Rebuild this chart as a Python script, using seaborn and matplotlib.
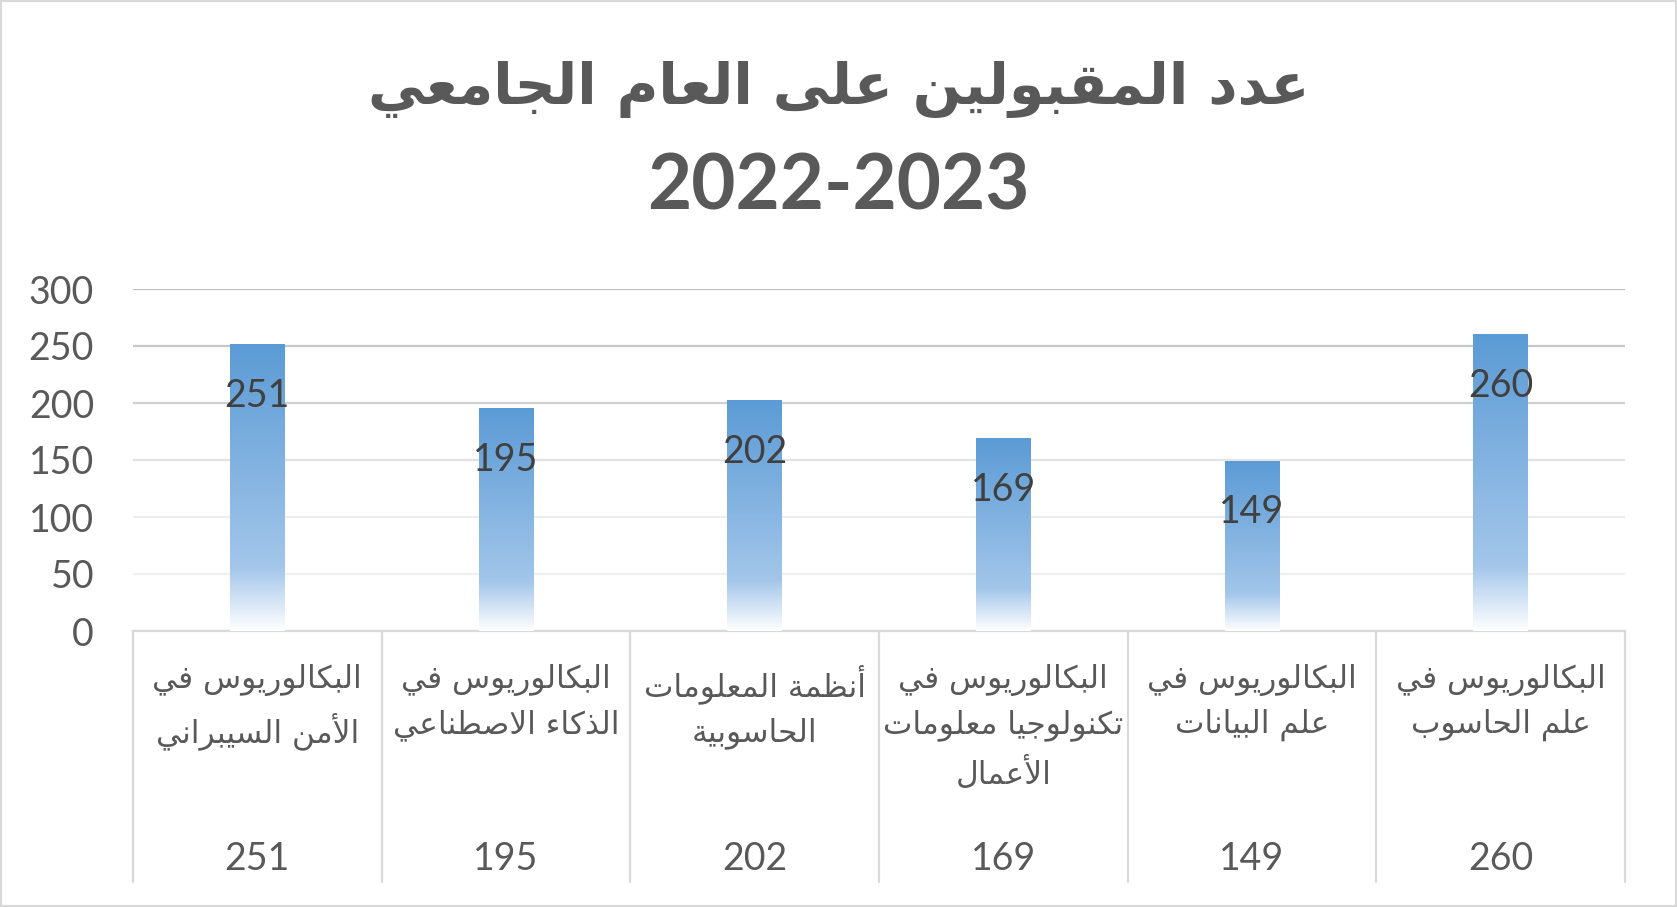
import numpy as np
import pandas as pd
import matplotlib
matplotlib.use("Agg")
import matplotlib.pyplot as plt
import seaborn as sns
from matplotlib.colors import LinearSegmentedColormap
from matplotlib.patches import Rectangle
from matplotlib.lines import Line2D

# ---------------- data ----------------
title_ar = "عدد المقبولين على العام الجامعي"
title_years = "2022-2023"
categories = [
    "البكالوريوس في\nالأمن السيبراني",
    "البكالوريوس في\nالذكاء الاصطناعي",
    "أنظمة المعلومات\nالحاسوبية",
    "البكالوريوس في\nتكنولوجيا معلومات\nالأعمال",
    "البكالوريوس في\nعلم البيانات",
    "البكالوريوس في\nعلم الحاسوب",
]
values = [251, 195, 202, 169, 149, 260]
y_ticks = [0, 50, 100, 150, 200, 250, 300]

# ------------- minimal Arabic shaping (presentation forms) -------------
DUAL = {'ئ': 0xFE89, 'ب': 0xFE8F, 'ت': 0xFE95, 'ث': 0xFE99, 'ج': 0xFE9D, 'ح': 0xFEA1,
        'خ': 0xFEA5, 'س': 0xFEB1, 'ش': 0xFEB5, 'ص': 0xFEB9, 'ض': 0xFEBD, 'ط': 0xFEC1,
        'ظ': 0xFEC5, 'ع': 0xFEC9, 'غ': 0xFECD, 'ف': 0xFED1, 'ق': 0xFED5, 'ك': 0xFED9,
        'ل': 0xFEDD, 'م': 0xFEE1, 'ن': 0xFEE5, 'ه': 0xFEE9, 'ي': 0xFEF1}
RIGHT = {'آ': 0xFE81, 'أ': 0xFE83, 'ؤ': 0xFE85, 'إ': 0xFE87, 'ا': 0xFE8D, 'ة': 0xFE93,
         'د': 0xFEA9, 'ذ': 0xFEAB, 'ر': 0xFEAD, 'ز': 0xFEAF, 'و': 0xFEED, 'ى': 0xFEEF}
LAMALEF = {'آ': 0xFEF5, 'أ': 0xFEF7, 'إ': 0xFEF9, 'ا': 0xFEFB}
NONJ = {'ء': 0xFE80}


def shape_line(s):
    toks = []
    i = 0
    while i < len(s):
        ch = s[i]
        if ch == 'ل' and i + 1 < len(s) and s[i + 1] in LAMALEF:
            toks.append(('R', LAMALEF[s[i + 1]]))
            i += 2
            continue
        if ch in DUAL:
            toks.append(('D', DUAL[ch]))
        elif ch in RIGHT:
            toks.append(('R', RIGHT[ch]))
        elif ch in NONJ:
            toks.append(('N', NONJ[ch]))
        else:
            toks.append(('X', ch))
        i += 1
    out = []
    for k, (kind, base) in enumerate(toks):
        if kind == 'X':
            out.append(base)
            continue
        if kind == 'N':
            out.append(chr(base))
            continue
        prev = toks[k - 1][0] if k > 0 else 'X'
        nxt = toks[k + 1][0] if k + 1 < len(toks) else 'X'
        jp = prev == 'D'
        jn = kind == 'D' and nxt in ('D', 'R')
        if jp and jn:
            c = base + 3
        elif jp:
            c = base + 1
        elif jn:
            c = base + 2
        else:
            c = base
        out.append(chr(c))
    return ''.join(out)[::-1]


def shape(text):
    return "\n".join(shape_line(l) for l in text.split("\n"))


# ---------------- figure ----------------
sns.set_theme(style="white")
plt.rcParams['font.family'] = ['DejaVu Sans']

W, H = 1677, 907
fig = plt.figure(figsize=(W / 100, H / 100), dpi=100)
fig.patch.set_facecolor('white')

ax_left, ax_right = 133 / W, 1625 / W
ax_bottom, ax_top = (H - 631) / H, (H - 289) / H
ax = fig.add_axes([ax_left, ax_bottom, ax_right - ax_left, ax_top - ax_bottom])

df = pd.DataFrame({"cat": categories, "val": values})
sns.barplot(data=df, x="cat", y="val", ax=ax, color="#5B9BD5", width=0.22,
            saturation=1, zorder=3)

# gradient fill on each bar
grad_cmap = LinearSegmentedColormap.from_list(
    "bar", [(0.0, "#FFFFFF"), (0.22, "#A3C6EA"), (1.0, "#5B9BD5")])
grad = np.linspace(1, 0, 256).reshape(-1, 1)
for p in list(ax.patches):
    x0, y0, w, h = p.get_x(), p.get_y(), p.get_width(), p.get_height()
    ax.imshow(grad, cmap=grad_cmap, vmin=0, vmax=1, aspect='auto',
              extent=(x0, x0 + w, y0, y0 + h), origin='upper', zorder=3,
              interpolation='bicubic')
    p.set_facecolor('none')
    p.set_edgecolor('none')

ax.set_xlim(-0.5, len(categories) - 0.5)
ax.set_ylim(0, 300)
ax.set_yticks(y_ticks)
ax.set_xticks([])
ax.set_xlabel("")
ax.set_ylabel("")

# gridlines (graded grey like the reference)
grid_colors = ["#D9D9D9", "#F0F0F0", "#EDEDED", "#E3E3E3", "#D0D0D0", "#C6C6C6", "#BFBFBF"]
ax.yaxis.grid(True, linewidth=1.6, zorder=0)
ax.set_axisbelow(True)
for line, c in zip(ax.yaxis.get_gridlines(), grid_colors):
    line.set_color(c)

ax.tick_params(axis='y', length=0, pad=28, labelsize=27, labelcolor="#595959")
for t in ax.get_yticklabels():
    t.set_fontfamily(['Lato', 'DejaVu Sans'])

for s in ["top", "right", "left"]:
    ax.spines[s].set_visible(False)
ax.spines["bottom"].set_color("#D9D9D9")
ax.spines["bottom"].set_linewidth(1.6)

# data labels inside bars
for p, v in zip(ax.patches, values):
    xc = p.get_x() + p.get_width() / 2
    ax.text(xc, p.get_height() - 45, str(v), ha='center', va='center',
            fontsize=27, color="#404040", family=['Lato', 'DejaVu Sans'], zorder=5)

# data table below the axis
tbl_bottom = -(882 - 631) / 342
xtr = ax.get_xaxis_transform()
for b in np.arange(-0.5, len(categories), 1.0):
    ax.add_line(Line2D([b, b], [0, tbl_bottom], transform=xtr, color="#D9D9D9",
                       lw=1.6, clip_on=False))
for i, (c, v) in enumerate(zip(categories, values)):
    ax.text(i, -(664 - 631) / 342, shape(c), transform=xtr, ha='center', va='top',
            multialignment='center', fontsize=22.5, linespacing=1.55, color="#595959",
            family=['DejaVu Sans'])
    ax.text(i, -(859 - 631) / 342, str(v), transform=xtr, ha='center', va='center',
            fontsize=27, color="#595959", family=['Lato', 'DejaVu Sans'])

# title
fig.text(0.5, 1 - 90 / H, shape(title_ar), ha='center', va='center', fontsize=41,
         fontweight='bold', color="#595959", family=['DejaVu Sans'])
fig.text(0.5, 1 - 187 / H, title_years, ha='center', va='center', fontsize=55,
         fontweight='bold', color="#595959", family=['Lato', 'DejaVu Sans'])

# chart border
fig.add_artist(Rectangle((0, 0), 1, 1, transform=fig.transFigure, fill=False,
                         edgecolor="#D9D9D9", lw=3))

fig.savefig("out.png", dpi=100, facecolor='white')
